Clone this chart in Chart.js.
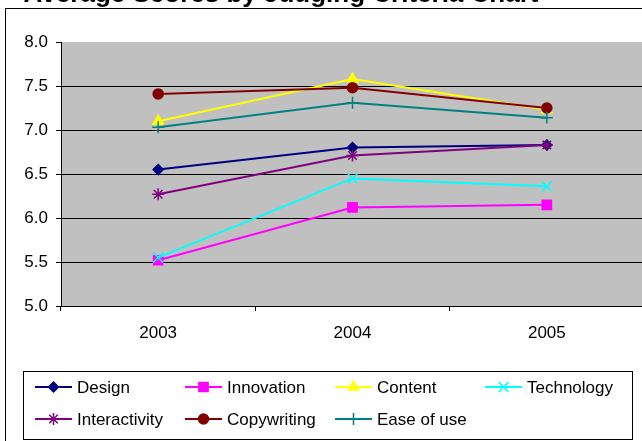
<!DOCTYPE html>
<html>
<head>
<meta charset="utf-8">
<script src="https://cdn.jsdelivr.net/npm/chart.js@4/dist/chart.umd.min.js"></script>
<style>
  html, body { margin: 0; padding: 0; background: #fff; overflow: hidden; }
  #wrap { width: 642px; height: 441px; overflow: hidden; position: relative; }
  canvas { display: block; }
</style>
</head>
<body>
<div id="wrap"><canvas id="chart" width="660" height="441"></canvas></div>
<script>
const TITLE = 'Average Scores by Judging Criteria Chart';
const years = ['2003', '2004', '2005'];
const design = [6.55, 6.80, 6.83];
const innovation = [5.52, 6.12, 6.15];
const content = [7.10, 7.58, 7.23];
const technology = [5.55, 6.45, 6.36];
const interactivity = [6.27, 6.71, 6.83];
const copywriting = [7.41, 7.48, 7.25];
const easeOfUse = [7.03, 7.31, 7.14];
const yMin = 5, yMax = 8, yStep = 0.5;

const FONT = "'Liberation Sans', Arial, sans-serif";

const seriesDefs = [
  { label: 'Design', data: design, color: '#000080', style: 'rectRot', r: 5 },
  { label: 'Innovation', data: innovation, color: '#FF00FF', style: 'rect', r: 6.5 },
  { label: 'Content', data: content, color: '#FFFF00', style: 'triangle', r: 6 },
  { label: 'Technology', data: technology, color: '#00FFFF', style: 'crossRot', r: 7 },
  { label: 'Interactivity', data: interactivity, color: '#800080', style: 'star', r: 6 },
  { label: 'Copywriting', data: copywriting, color: '#800000', style: 'circle', r: 5 },
  { label: 'Ease of use', data: easeOfUse, color: '#008080', style: 'cross', r: 6 }
];

const datasets = seriesDefs.map((s, i) => ({
  label: s.label,
  data: s.data,
  borderColor: s.color,
  backgroundColor: s.color,
  borderWidth: 2,
  tension: 0,
  fill: false,
  pointStyle: s.style,
  pointRadius: s.r,
  pointHoverRadius: s.r,
  pointBorderWidth: 1.5,
  pointBorderColor: s.color,
  pointBackgroundColor: s.color,
  order: seriesDefs.length - i
}));

const deco = {
  id: 'deco',
  beforeDraw(chart) {
    const ctx = chart.ctx;
    const a = chart.chartArea;
    ctx.save();
    ctx.fillStyle = '#C0C0C0';
    ctx.fillRect(a.left, a.top, a.right - a.left, a.bottom - a.top);
    ctx.strokeStyle = '#000';
    ctx.lineWidth = 1;
    ctx.strokeRect(5.5, 8.5, 800, 800);
    ctx.restore();
  },
  afterDraw(chart) {
    const ctx = chart.ctx;
    ctx.save();
    // title, mostly cut off above the frame
    ctx.fillStyle = '#000';
    ctx.font = 'bold 26px ' + FONT;
    ctx.textAlign = 'center';
    ctx.textBaseline = 'alphabetic';
    ctx.fillText(TITLE, 281, 2);

    // legend box
    ctx.strokeStyle = '#000';
    ctx.lineWidth = 1;
    ctx.fillStyle = '#fff';
    ctx.fillRect(23.5, 371.5, 609, 68);
    ctx.strokeRect(23.5, 371.5, 609, 68);
    ctx.font = '17px ' + FONT;
    ctx.textAlign = 'left';
    ctx.textBaseline = 'middle';
    chart.data.datasets.forEach((ds, i) => {
      const col = i % 4, row = Math.floor(i / 4);
      const x0 = 35 + col * 150;
      const y = 387 + row * 32;
      ctx.strokeStyle = ds.borderColor;
      ctx.lineWidth = 2;
      ctx.beginPath();
      ctx.moveTo(x0, y);
      ctx.lineTo(x0 + 37, y);
      ctx.stroke();
      ctx.fillStyle = ds.pointBackgroundColor;
      ctx.strokeStyle = ds.pointBorderColor;
      ctx.lineWidth = ds.pointBorderWidth;
      Chart.helpers.drawPoint(ctx, {
        pointStyle: ds.pointStyle, radius: ds.pointRadius, borderWidth: ds.pointBorderWidth, rotation: 0
      }, x0 + 18.5, y);
      ctx.fillStyle = '#000';
      ctx.fillText(ds.label, x0 + 42, y + 1);
    });
    ctx.restore();
  }
};

new Chart(document.getElementById('chart'), {
  type: 'line',
  data: { labels: years, datasets },
  plugins: [deco],
  options: {
    responsive: false,
    devicePixelRatio: 1,
    animation: false,
    events: [],
    layout: { padding: { top: 42, left: 0, right: 16, bottom: 95 } },
    plugins: {
      legend: { display: false },
      title: { display: false },
      tooltip: { enabled: false }
    },
    scales: {
      x: {
        offset: true,
        afterFit: (s) => { s.height = 40; },
        border: { display: true, color: '#000', width: 1 },
        grid: { offset: true, drawOnChartArea: false, drawTicks: true, tickLength: 5, tickColor: '#000' },
        ticks: { color: '#000', padding: 12, font: { family: FONT, size: 17 } }
      },
      y: {
        min: yMin,
        max: yMax,
        afterFit: (s) => { s.width = 61; },
        border: { display: true, color: '#000', width: 1 },
        grid: {
          color: (c) => (c.tick && c.tick.value === yMax) ? 'rgba(0,0,0,0)' : '#000',
          lineWidth: 1,
          drawTicks: true,
          tickLength: 5,
          tickColor: '#000'
        },
        ticks: {
          stepSize: yStep,
          color: '#000',
          padding: 8,
          font: { family: FONT, size: 17 },
          callback: (v) => Number(v).toFixed(1)
        }
      }
    }
  }
});
</script>
</body>
</html>
